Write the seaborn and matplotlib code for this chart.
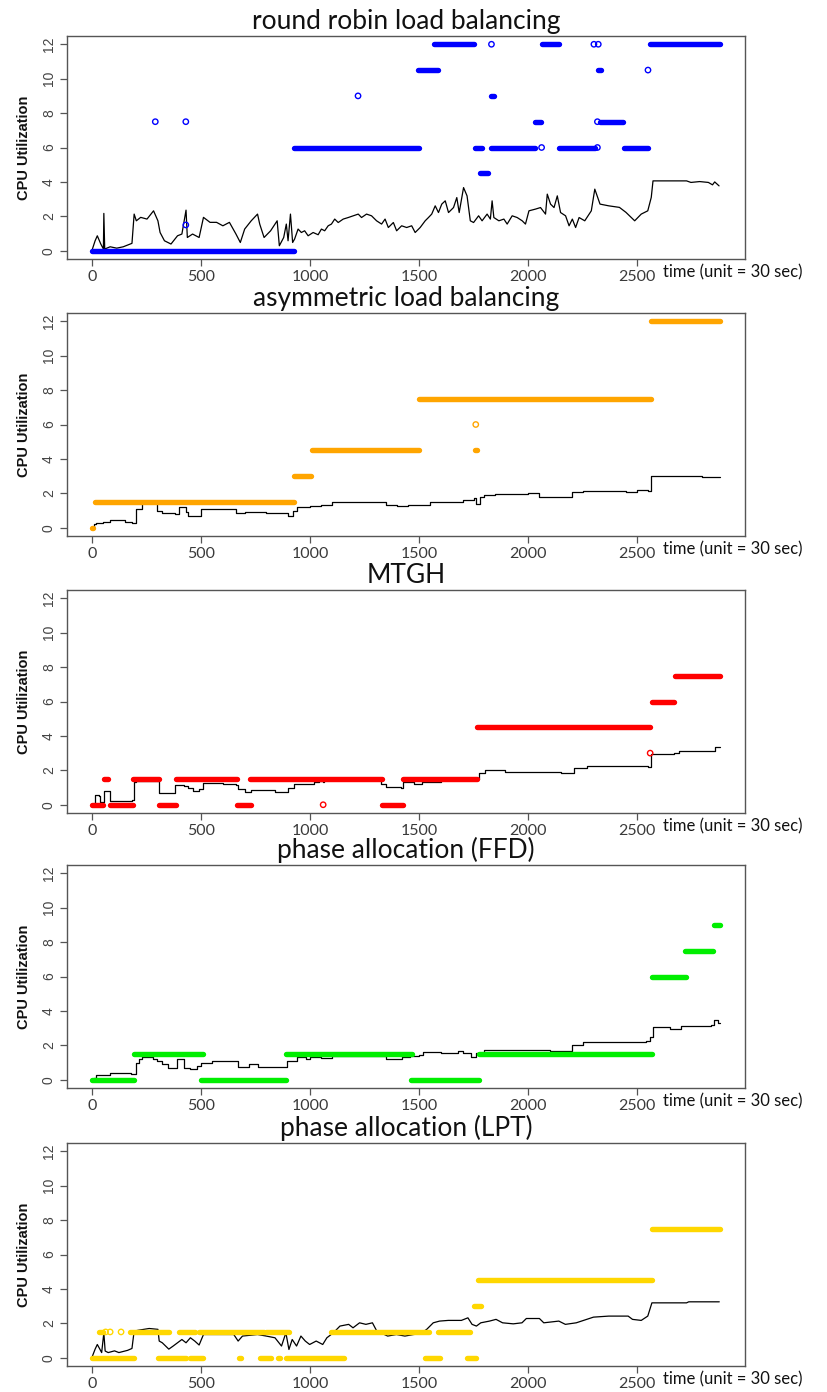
import numpy as np
import pandas as pd
import matplotlib
matplotlib.use("Agg")
import matplotlib.pyplot as plt
import seaborn as sns
from matplotlib import font_manager

# ---------------------------------------------------------------- data ----
TITLES = ["round robin load balancing", "asymmetric load balancing", "MTGH",
          "phase allocation (FFD)", "phase allocation (LPT)"]
COLORS = ["#0000FF", "#FFA500", "#FF0000", "#00EE00", "#FFD700"]
X_TICKS = [0, 500, 1000, 1500, 2000, 2500]
Y_TICKS = [0, 2, 4, 6, 8, 10, 12]
X_LABEL = "time (unit = 30 sec)"
Y_LABEL = "CPU Utilization"

# round robin: utilization trace
rr_t = [0, 14, 24, 40, 52, 54, 58, 83, 113, 143, 183, 193, 203, 223, 252, 282, 302,
        312, 332, 362, 392, 412, 431, 437, 461, 491, 511, 541, 571, 600, 630, 660,
        680, 700, 730, 759, 769, 789, 819, 849, 859, 879, 891, 899, 910, 920, 929,
        945, 960, 975, 991, 1014, 1037, 1052, 1067, 1083, 1098, 1113, 1129, 1152,
        1175, 1198, 1221, 1236, 1259, 1282, 1305, 1328, 1344, 1359, 1382, 1397,
        1420, 1443, 1466, 1482, 1505, 1528, 1543, 1558, 1574, 1589, 1604, 1620,
        1635, 1658, 1673, 1684, 1704, 1720, 1735, 1750, 1773, 1789, 1812, 1827,
        1835, 1843, 1866, 1889, 1904, 1927, 1950, 1973, 1988, 2004, 2034, 2057,
        2080, 2088, 2103, 2119, 2134, 2149, 2172, 2188, 2203, 2218, 2234, 2260,
        2290, 2306, 2330, 2370, 2419, 2449, 2489, 2519, 2549, 2565, 2573, 2727,
        2747, 2787, 2827, 2846, 2856, 2876]
rr_cpu = [0.04, 0.58, 0.87, 0.39, 0.10, 2.17, 0.10, 0.23, 0.15, 0.23, 0.43, 2.13,
          1.74, 1.94, 1.84, 2.32, 1.74, 1.06, 0.58, 0.39, 0.87, 0.97, 2.36, 0.77,
          0.97, 0.77, 1.94, 1.65, 1.65, 1.45, 1.65, 0.97, 0.48, 1.26, 1.74, 2.13,
          1.55, 0.77, 1.16, 1.74, 0.29, 0.77, 1.55, 0.58, 2.13, 0.48, 0.68,
          1.26, 1.06, 1.16, 0.87, 1.06, 0.93, 1.26, 1.16, 1.45, 1.55, 1.84, 1.64, 1.84,
          1.93, 2.03, 2.13, 1.93, 2.13, 2.03, 1.74, 1.55, 1.84, 1.35, 1.64, 1.16,
          1.45, 1.35, 1.45, 1.06, 1.35, 1.74, 1.93, 2.13, 2.61, 2.22, 2.71, 2.90,
          2.22, 2.51, 3.09, 2.22, 3.67, 3.19, 1.74, 1.64, 2.03, 1.74, 2.13, 1.84,
          2.90, 1.93, 1.74, 1.84, 1.55, 2.03, 1.93, 1.74, 1.55, 2.32, 2.42, 2.51,
          2.13, 3.29, 2.71, 2.51, 3.19, 2.22, 2.03, 1.45, 1.84, 1.35, 1.93, 1.74,
          2.32, 3.58, 2.71, 2.61, 2.52, 2.23, 1.74, 2.13, 2.32, 3.10, 4.06, 4.06,
          3.97, 4.02, 3.97, 3.83, 4.00, 3.77]
rr_seg_start = [0, 925, 1755, 1830, 2140, 2440, 1780, 2030, 2330, 1828, 1495, 2320, 1570, 2065, 2560]
rr_seg_end = [925, 1500, 1790, 2030, 2305, 2550, 1815, 2060, 2435, 1842, 1585, 2335, 1750, 2140, 2880]
rr_seg_level = [0, 6, 6, 6, 6, 6, 4.5, 7.5, 7.5, 9, 10.5, 10.5, 12, 12, 12]
rr_pt_t = [290, 430, 430, 1220, 2062, 2318, 2318, 1832, 2302, 2322, 2550]
rr_pt_level = [7.5, 7.5, 1.5, 9, 6, 6, 7.5, 12, 12, 12, 10.5]

# asymmetric load balancing
asym_t = [0, 10, 20, 50, 80, 150, 185, 200, 230, 300, 320, 380, 400, 430, 440, 500,
          600, 660, 700, 800, 900, 920, 940, 1000, 1050, 1100, 1200, 1350, 1400,
          1450, 1500, 1550, 1700, 1750, 1760, 1780, 1800, 1850, 2000, 2050, 2200,
          2250, 2450, 2500, 2550, 2565, 2800, 2880]
asym_cpu = [0.0, 0.2, 0.3, 0.35, 0.45, 0.35, 0.3, 1.1, 1.45, 1.0, 0.85, 0.8, 1.2,
            0.9, 0.7, 1.1, 1.1, 0.85, 0.9, 0.85, 0.7, 1.0, 1.2, 1.25, 1.3, 1.5, 1.5,
            1.35, 1.25, 1.35, 1.3, 1.5, 1.6, 1.7, 1.4, 1.8, 1.9, 1.95, 2.0, 1.8, 2.1,
            2.15, 2.1, 2.2, 2.15, 3.0, 2.95, 2.95]
asym_seg_start = [0, 15, 925, 1010, 1500, 1755, 2565]
asym_seg_end = [5, 925, 1005, 1500, 2565, 1765, 2880]
asym_seg_level = [0, 1.5, 3, 4.5, 7.5, 4.5, 12]
asym_pt_t = [1760]
asym_pt_level = [6]

# MTGH
mtgh_t = [0, 14, 30, 38, 54, 80, 183, 193, 203, 306, 382, 420, 440, 461, 490, 511,
          600, 660, 670, 700, 730, 839, 899, 928, 1018, 1040, 1058, 1065, 1326,
          1346, 1415, 1425, 1475, 1515, 1600, 1763, 1773, 1803, 1893, 2151, 2211,
          2270, 2549, 2565, 2668, 2690, 2847, 2857, 2880]
mtgh_cpu = [0.0, 0.55, 0.5, 0.15, 0.8, 0.2, 0.3, 1.3, 1.4, 0.68, 1.16, 1.1, 1.0,
            0.8, 0.9, 1.25, 1.2, 1.15, 0.9, 0.75, 0.85, 0.75, 1.0, 1.2, 1.3, 1.4,
            1.3, 1.45, 1.2, 1.03, 1.0, 1.3, 1.2, 1.35, 1.45, 1.5, 1.85, 2.0, 1.9,
            1.84, 2.15, 2.25, 2.2, 2.95, 3.0, 3.1, 3.15, 3.35, 3.35]
mtgh_seg_start = [0, 83, 305, 665, 1330, 55, 190, 385, 725, 1425, 1765, 2570, 2675]
mtgh_seg_end = [48, 190, 385, 730, 1425, 75, 305, 665, 1330, 1765, 2560, 2670, 2880]
mtgh_seg_level = [0, 0, 0, 0, 0, 1.5, 1.5, 1.5, 1.5, 1.5, 4.5, 6, 7.5]
mtgh_pt_t = [1060, 2560]
mtgh_pt_level = [0, 3]

# phase allocation (FFD)
ffd_t = [0, 10, 20, 50, 80, 150, 180, 200, 215, 230, 280, 300, 320, 350, 390, 420,
         450, 480, 500, 550, 670, 720, 760, 895, 940, 980, 1000, 1050, 1100, 1350,
         1420, 1460, 1500, 1520, 1600, 1680, 1700, 1740, 1760, 1800, 1850, 2100,
         2200, 2250, 2540, 2560, 2575, 2650, 2700, 2840, 2855, 2870, 2880]
ffd_cpu = [0.0, 0.1, 0.25, 0.3, 0.38, 0.4, 0.35, 1.0, 1.2, 1.3, 1.2, 1.1, 0.9, 0.7,
           1.2, 0.7, 0.65, 0.8, 1.0, 1.1, 0.75, 0.9, 0.75, 1.1, 1.3, 1.2, 1.3, 1.25,
           1.4, 1.2, 1.3, 1.4, 1.45, 1.6, 1.55, 1.65, 1.55, 1.3, 1.55, 1.7, 1.75,
           1.65, 2.0, 2.2, 2.25, 2.5, 3.05, 2.95, 3.1, 3.2, 3.45, 3.3, 3.3]
ffd_seg_start = [0, 500, 1465, 193, 889, 1775, 2567, 2720, 2855]
ffd_seg_end = [193, 889, 1777, 507, 1468, 2567, 2724, 2850, 2880]
ffd_seg_level = [0, 0, 0, 1.5, 1.5, 1.5, 6, 7.5, 9]
ffd_pt_t = []
ffd_pt_level = []

# phase allocation (LPT)
lpt_t = [0, 14, 24, 34, 44, 54, 60, 74, 103, 123, 163, 183, 193, 213, 262, 302, 308,
         322, 352, 372, 392, 412, 431, 451, 471, 491, 511, 571, 650, 670, 690, 759,
         799, 839, 869, 889, 903, 918, 938, 958, 978, 998, 1028, 1058, 1077, 1107,
         1137, 1177, 1197, 1227, 1256, 1286, 1306, 1356, 1396, 1435, 1475, 1505,
         1535, 1565, 1594, 1634, 1694, 1724, 1743, 1763, 1783, 1823, 1853, 1883,
         1932, 1972, 1992, 2052, 2072, 2141, 2171, 2221, 2300, 2370, 2459, 2479,
         2519, 2549, 2568, 2727, 2737, 2877]
lpt_cpu = [0.04, 0.5, 0.77, 0.54, 0.3, 1.45, 0.39, 0.3, 0.4, 0.3, 0.43, 0.54, 1.55,
           1.6, 1.7, 1.65, 0.97, 0.87, 0.5, 0.68, 0.87, 1.06, 0.87, 1.16, 0.97, 0.74,
           1.35, 1.35, 1.35, 0.97, 1.26, 1.35, 1.26, 1.16, 0.68, 1.45, 0.48, 1.06,
           0.68, 1.26, 0.97, 0.77, 0.97, 0.77, 1.16, 1.45, 1.84, 1.94, 1.74, 2.03,
           1.94, 2.03, 1.55, 1.26, 1.35, 1.26, 1.35, 1.39, 1.65, 2.03, 2.13, 2.17,
           2.17, 2.32, 1.94, 1.84, 2.03, 2.13, 2.23, 2.03, 1.97, 2.03, 2.28, 2.28,
           2.03, 2.13, 1.94, 2.03, 2.36, 2.42, 2.42, 2.23, 2.17, 2.42, 3.19, 3.19,
           3.25, 3.25]
lpt_seg_start = [0, 302, 451, 675, 769, 852, 889, 1525, 1718,
                 34, 173, 398, 491, 799, 1094, 1585, 1753, 1769, 2567]
lpt_seg_end = [193, 431, 511, 685, 819, 862, 1157, 1594, 1763,
               50, 352, 471, 789, 903, 1545, 1734, 1783, 2570, 2880]
lpt_seg_level = [0, 0, 0, 0, 0, 0, 0, 0, 0,
                 1.5, 1.5, 1.5, 1.5, 1.5, 1.5, 1.5, 3, 4.5, 7.5]
lpt_pt_t = [62, 83, 133]
lpt_pt_level = [1.5, 1.5, 1.5]

# ---------------------------------------------------------------- style ---
sns.set_theme(style="white")


def pick(*names):
    avail = {f.name for f in font_manager.fontManager.ttflist}
    for n in names:
        if n in avail:
            return n
    return "DejaVu Sans"


SANS = pick("Liberation Sans", "Arimo", "DejaVu Sans")
HUMAN = pick("Lato", "Open Sans", "DejaVu Sans")
plt.rcParams["font.family"] = [SANS, "DejaVu Sans"]

W, H = 827, 1392
fig = plt.figure(figsize=(W / 100, H / 100), dpi=100)
fig.patch.set_facecolor("white")

AX_LEFT, AX_RIGHT = 67, 745
AX_H = 223
AX_BOTTOMS = [259, 536, 813, 1088, 1366]

panels = [
    (rr_t, rr_cpu, "default", rr_seg_start, rr_seg_end, rr_seg_level, rr_pt_t, rr_pt_level),
    (asym_t, asym_cpu, "steps-post", asym_seg_start, asym_seg_end, asym_seg_level, asym_pt_t, asym_pt_level),
    (mtgh_t, mtgh_cpu, "steps-post", mtgh_seg_start, mtgh_seg_end, mtgh_seg_level, mtgh_pt_t, mtgh_pt_level),
    (ffd_t, ffd_cpu, "steps-post", ffd_seg_start, ffd_seg_end, ffd_seg_level, ffd_pt_t, ffd_pt_level),
    (lpt_t, lpt_cpu, "default", lpt_seg_start, lpt_seg_end, lpt_seg_level, lpt_pt_t, lpt_pt_level),
]

for i, (t, cpu, ds, s0, s1, lev, pt, pl) in enumerate(panels):
    bottom = AX_BOTTOMS[i]
    ax = fig.add_axes([AX_LEFT / W, 1 - bottom / H, (AX_RIGHT - AX_LEFT) / W, AX_H / H])
    color = COLORS[i]

    # utilization trace
    trace = pd.DataFrame({"t": t, "cpu": cpu})
    sns.lineplot(data=trace, x="t", y="cpu", ax=ax, color="black", linewidth=0.9,
                 estimator=None, sort=False, drawstyle=ds, zorder=2)

    # allocated capacity runs: each run is drawn from its first to its last step
    seg = pd.DataFrame({"t": list(s0) + list(s1),
                        "level": list(lev) + list(lev),
                        "run": list(range(len(s0))) * 2})
    sns.lineplot(data=seg, x="t", y="level", units="run", estimator=None, ax=ax,
                 color=color, linewidth=3.9, solid_capstyle="round", zorder=3)

    # single steps drawn as open circles
    if len(pt):
        sns.scatterplot(x=pt, y=pl, ax=ax, marker="o", s=15, zorder=4)
        coll = ax.collections[-1]
        coll.set_facecolor("none")
        coll.set_edgecolor(color)
        coll.set_linewidth(1.0)

    ax.set_xlim(-115, 2995)
    ax.set_ylim(-0.48, 12.48)
    ax.set_xticks(X_TICKS)
    ax.set_yticks(Y_TICKS)
    ax.set_xlabel("")
    ax.set_ylabel(Y_LABEL, fontsize=10.5, fontweight="bold", labelpad=8, color="#111111")
    ax.set_title(TITLES[i], fontsize=19, family=HUMAN, pad=5, color="#111111")

    ax.tick_params(axis="both", direction="out", length=5, width=0.9, color="#555555",
                   bottom=True, left=True, pad=3)
    for lab in ax.get_xticklabels():
        lab.set_family(HUMAN)
        lab.set_fontsize(11.5)
        lab.set_color("#3a3a3a")
    for lab in ax.get_yticklabels():
        lab.set_rotation(90)
        lab.set_va("center")
        lab.set_fontsize(10)
        lab.set_color("#444444")
    for sp in ax.spines.values():
        sp.set_visible(True)
        sp.set_color("#555555")
        sp.set_linewidth(1.0)
    if legend := ax.get_legend():
        legend.remove()

    fig.text(663 / W, 1 - (bottom + 13) / H, X_LABEL, ha="left", va="center",
             fontsize=12, family=HUMAN, color="#111111")

fig.savefig("out.png", dpi=100, facecolor="white")
